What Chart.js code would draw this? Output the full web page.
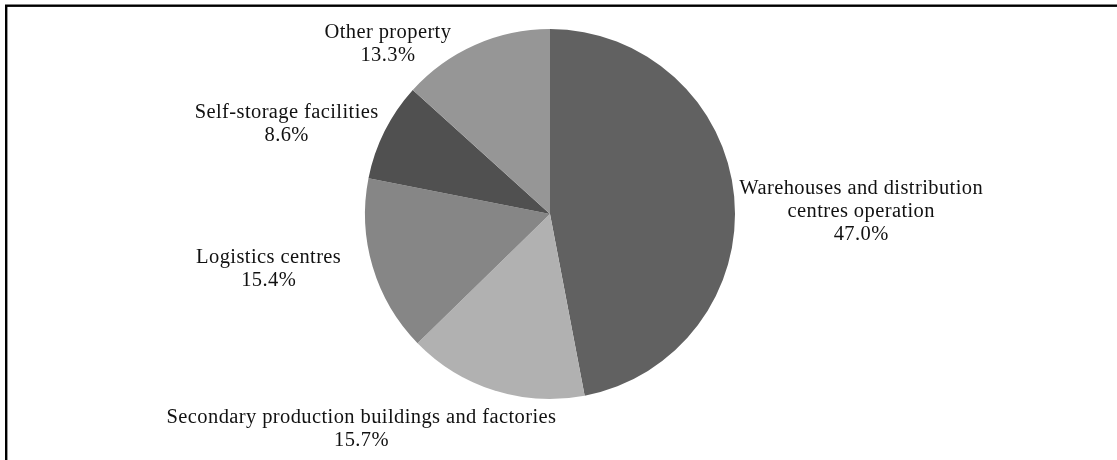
<!DOCTYPE html>
<html>
<head>
<meta charset="utf-8">
<script src="https://cdn.jsdelivr.net/npm/chart.js@4/dist/chart.umd.min.js"></script>
<style>
  html, body { margin: 0; padding: 0; background: #ffffff; }
  #wrap { width: 1117px; height: 460px; overflow: hidden; }
</style>
</head>
<body>
<div id="wrap"><canvas id="pie" width="1117" height="460"></canvas></div>
<script>
// Property types, clockwise from 12 o'clock
const categories = [
  ['Warehouses and distribution', 'centres operation'],
  ['Secondary production buildings and factories'],
  ['Logistics centres'],
  ['Self-storage facilities'],
  ['Other property']
];
// Share of each type, percent
const shares = [47.0, 15.7, 15.4, 8.6, 13.3];
const sliceColors = ['#616161', '#b1b1b1', '#868686', '#505050', '#969696'];

// Label placement relative to the outer edge of each slice at its mid-angle:
// [x shift of the text block centre, y shift of the first baseline]
const labelNudge = [
  [127, -3],
  [-133, 33],
  [-104, -4],
  [-98, -13],
  [-87, -7]
];

const framePlugin = {
  id: 'frame',
  beforeDraw(chart) {
    const ctx = chart.ctx;
    ctx.save();
    ctx.strokeStyle = '#000000';
    ctx.lineWidth = 2.4;
    ctx.strokeRect(6.2, 5.7, 3000, 3000);
    ctx.restore();
  }
};

const sliceLabels = {
  id: 'sliceLabels',
  afterDatasetsDraw(chart) {
    const ctx = chart.ctx;
    const meta = chart.getDatasetMeta(0);
    const values = chart.data.datasets[0].data;
    ctx.save();
    ctx.font = '20.5px "Liberation Serif", "Times New Roman", serif';
    if ('letterSpacing' in ctx) ctx.letterSpacing = '0.4px';
    ctx.fillStyle = '#111111';
    ctx.textAlign = 'center';
    ctx.textBaseline = 'alphabetic';
    const lineH = 23;
    meta.data.forEach((arc, i) => {
      const p = arc.getProps(['x', 'y', 'startAngle', 'endAngle', 'outerRadius'], true);
      const mid = (p.startAngle + p.endAngle) / 2;
      const ex = p.x + Math.cos(mid) * p.outerRadius;
      const ey = p.y + Math.sin(mid) * p.outerRadius;
      const cx = ex + labelNudge[i][0];
      const by = ey + labelNudge[i][1];
      const lines = chart.data.labels[i].concat([values[i].toFixed(1) + '%']);
      lines.forEach((t, k) => ctx.fillText(t, cx, by + k * lineH));
    });
    ctx.restore();
  }
};

new Chart(document.getElementById('pie'), {
  type: 'pie',
  data: {
    labels: categories,
    datasets: [{
      data: shares,
      backgroundColor: sliceColors,
      borderWidth: 0
    }]
  },
  options: {
    responsive: false,
    animation: false,
    layout: { padding: { top: 29, bottom: 61, left: 365, right: 382 } },
    plugins: {
      legend: { display: false },
      tooltip: { enabled: false }
    }
  },
  plugins: [framePlugin, sliceLabels]
});
</script>
</body>
</html>
